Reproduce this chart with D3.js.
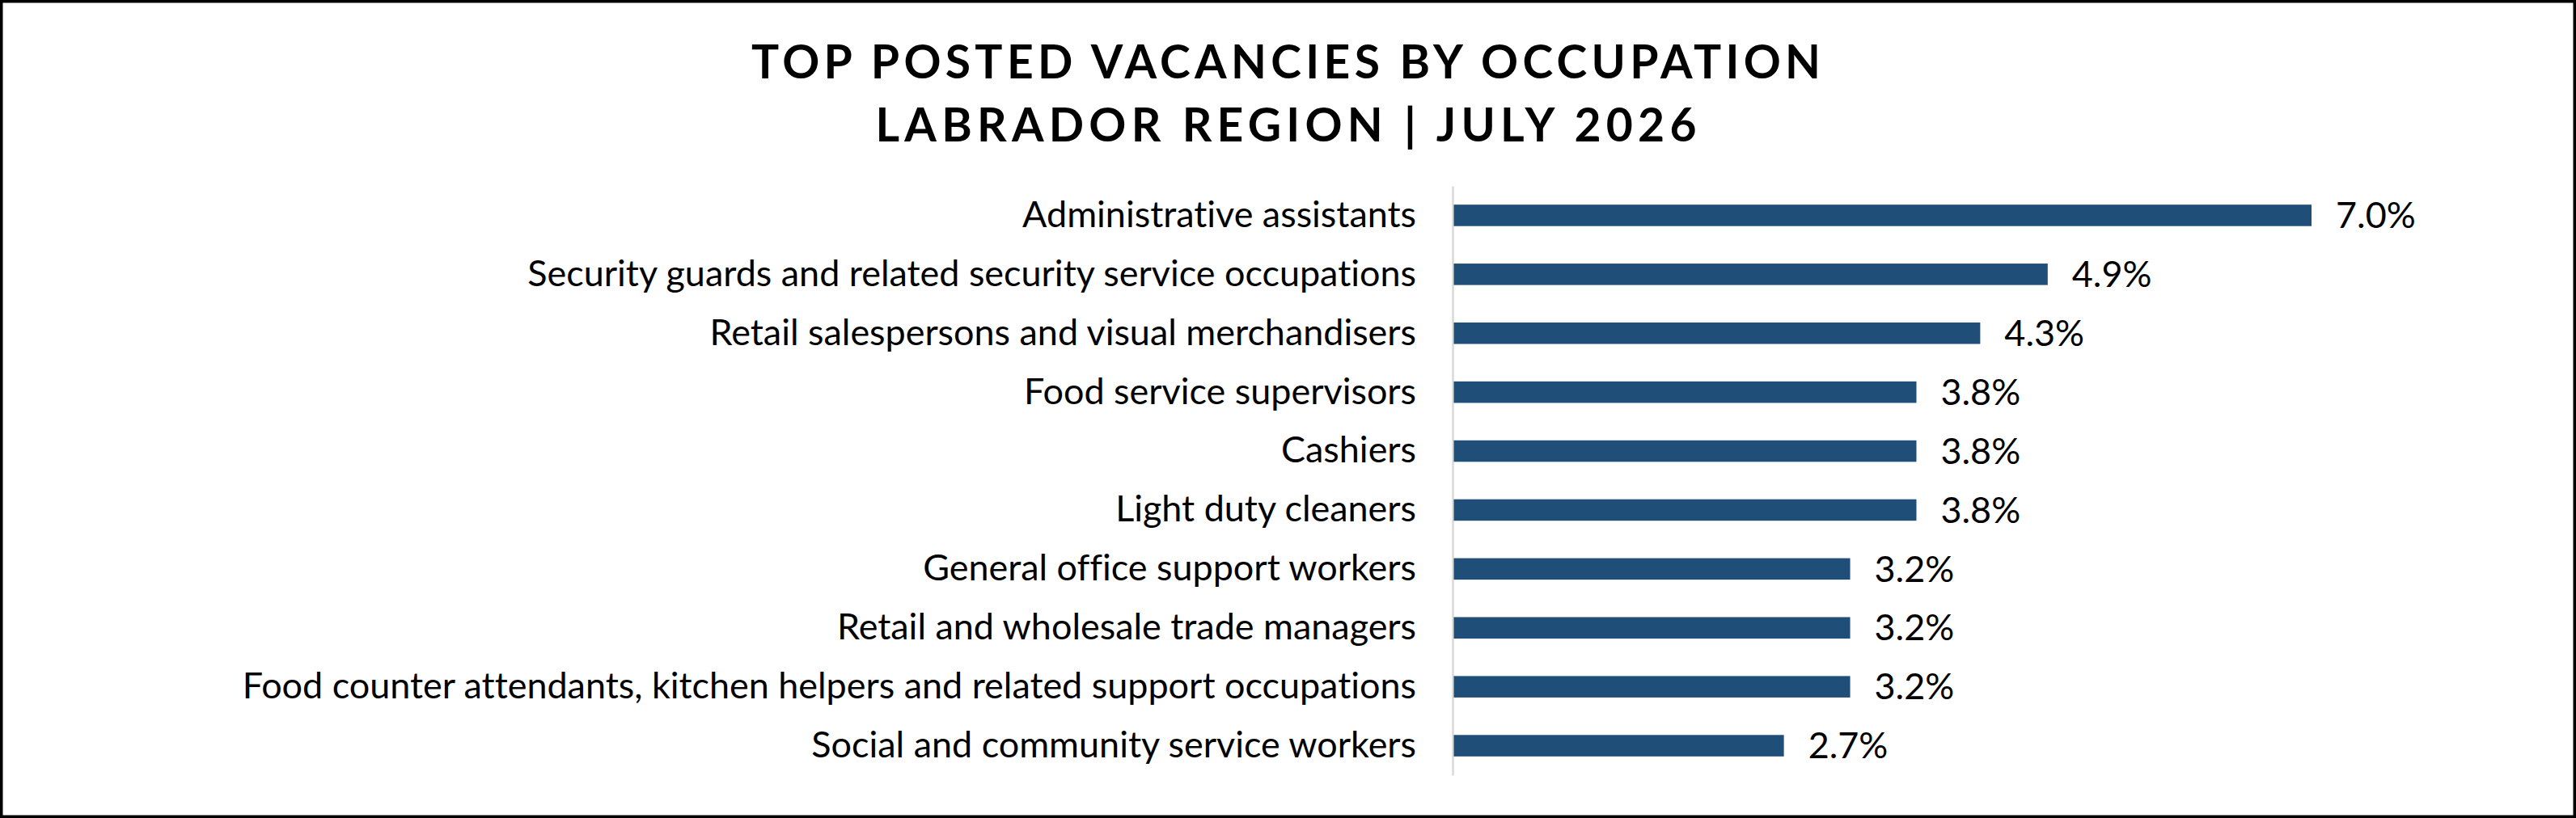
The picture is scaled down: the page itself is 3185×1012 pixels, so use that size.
<!DOCTYPE html>
<html>
<head>
<meta charset="utf-8">
<script src="https://cdn.jsdelivr.net/npm/d3@7"></script>
<style>
html,body{margin:0;padding:0;background:#fff;}
svg{display:block;}
text{font-variant-ligatures:none;font-feature-settings:"liga" 0;}
</style>
</head>
<body>
<svg id="chart" width="3185" height="1012"></svg>
<script>
const titleLines = ["TOP POSTED VACANCIES BY OCCUPATION", "LABRADOR REGION | JULY 2026"];
const categories = [
  "Administrative assistants",
  "Security guards and related security service occupations",
  "Retail salespersons and visual merchandisers",
  "Food service supervisors",
  "Cashiers",
  "Light duty cleaners",
  "General office support workers",
  "Retail and wholesale trade managers",
  "Food counter attendants, kitchen helpers and related support occupations",
  "Social and community service workers"
];
const values = [7.0, 4.85, 4.3, 3.78, 3.78, 3.78, 3.24, 3.24, 3.24, 2.7];
const valueLabels = ["7.0%", "4.9%", "4.3%", "3.8%", "3.8%", "3.8%", "3.2%", "3.2%", "3.2%", "2.7%"];

const W = 3185, H = 1012;
const svg = d3.select("#chart");
const FONT = "Lato, 'Open Sans', 'Noto Sans', sans-serif";

// border
svg.append("rect").attr("x", 1.75).attr("y", 1.75).attr("width", W - 3.5).attr("height", H - 3.5)
  .attr("fill", "#fff").attr("stroke", "#000").attr("stroke-width", 3.5);

const axisX = 1796;
const x = d3.scaleLinear().domain([0, 7.0]).range([axisX, 2858]);
const y = d3.scaleBand().domain(categories).range([230, 959]).paddingInner(0.636).paddingOuter(0.318);

// title
const titleCenter = 1590;
const titleBaselines = [97, 175];
const titleWidths = [1322, 1015];
titleLines.forEach((t, i) => {
  const el = svg.append("text")
    .attr("x", titleCenter).attr("y", titleBaselines[i])
    .attr("text-anchor", "middle")
    .attr("font-family", FONT).attr("font-weight", 700)
    .attr("font-size", 57).attr("fill", "#000")
    .text(t);
  const natural = el.node().getComputedTextLength();
  const ls = (titleWidths[i] - natural) / (t.length - 1);
  el.attr("letter-spacing", ls);
  el.attr("x", titleCenter + ls / 2);
});

// label font size fit: longest label ~1452px wide
const probe = svg.append("text").attr("font-family", FONT).attr("font-size", 100)
  .style("font-variant-ligatures", "none")
  .text(categories[8]);
const probeW = probe.node().getComputedTextLength();
probe.remove();
const labelSize = Math.min(48, 100 * 1452 / probeW);

// axis line (category axis)
const yAxis = d3.axisLeft(y).tickSize(0).tickPadding(axisX - 1751);
const gAxis = svg.append("g").attr("transform", `translate(${axisX},0)`).call(yAxis);
gAxis.select(".domain").attr("stroke", "#d9d9d9").attr("stroke-width", 2.5);
gAxis.selectAll("text").attr("font-family", FONT).attr("font-size", labelSize)
  .attr("fill", "#000");

// bars
svg.append("g").selectAll("rect").data(categories).join("rect")
  .attr("x", x(0) + 1.5)
  .attr("y", d => y(d))
  .attr("width", (d, i) => x(values[i]) - x(0) - 1.5)
  .attr("height", y.bandwidth())
  .attr("fill", "#1f4e79");

// value labels
svg.append("g").selectAll("text").data(categories).join("text")
  .attr("x", (d, i) => x(values[i]) + 30)
  .attr("y", d => y(d) + y.bandwidth() / 2)
  .attr("dy", "0.35em")
  .attr("font-family", FONT).attr("font-size", labelSize)
  .attr("fill", "#000")
  .text((d, i) => valueLabels[i]);
</script>
</body>
</html>
